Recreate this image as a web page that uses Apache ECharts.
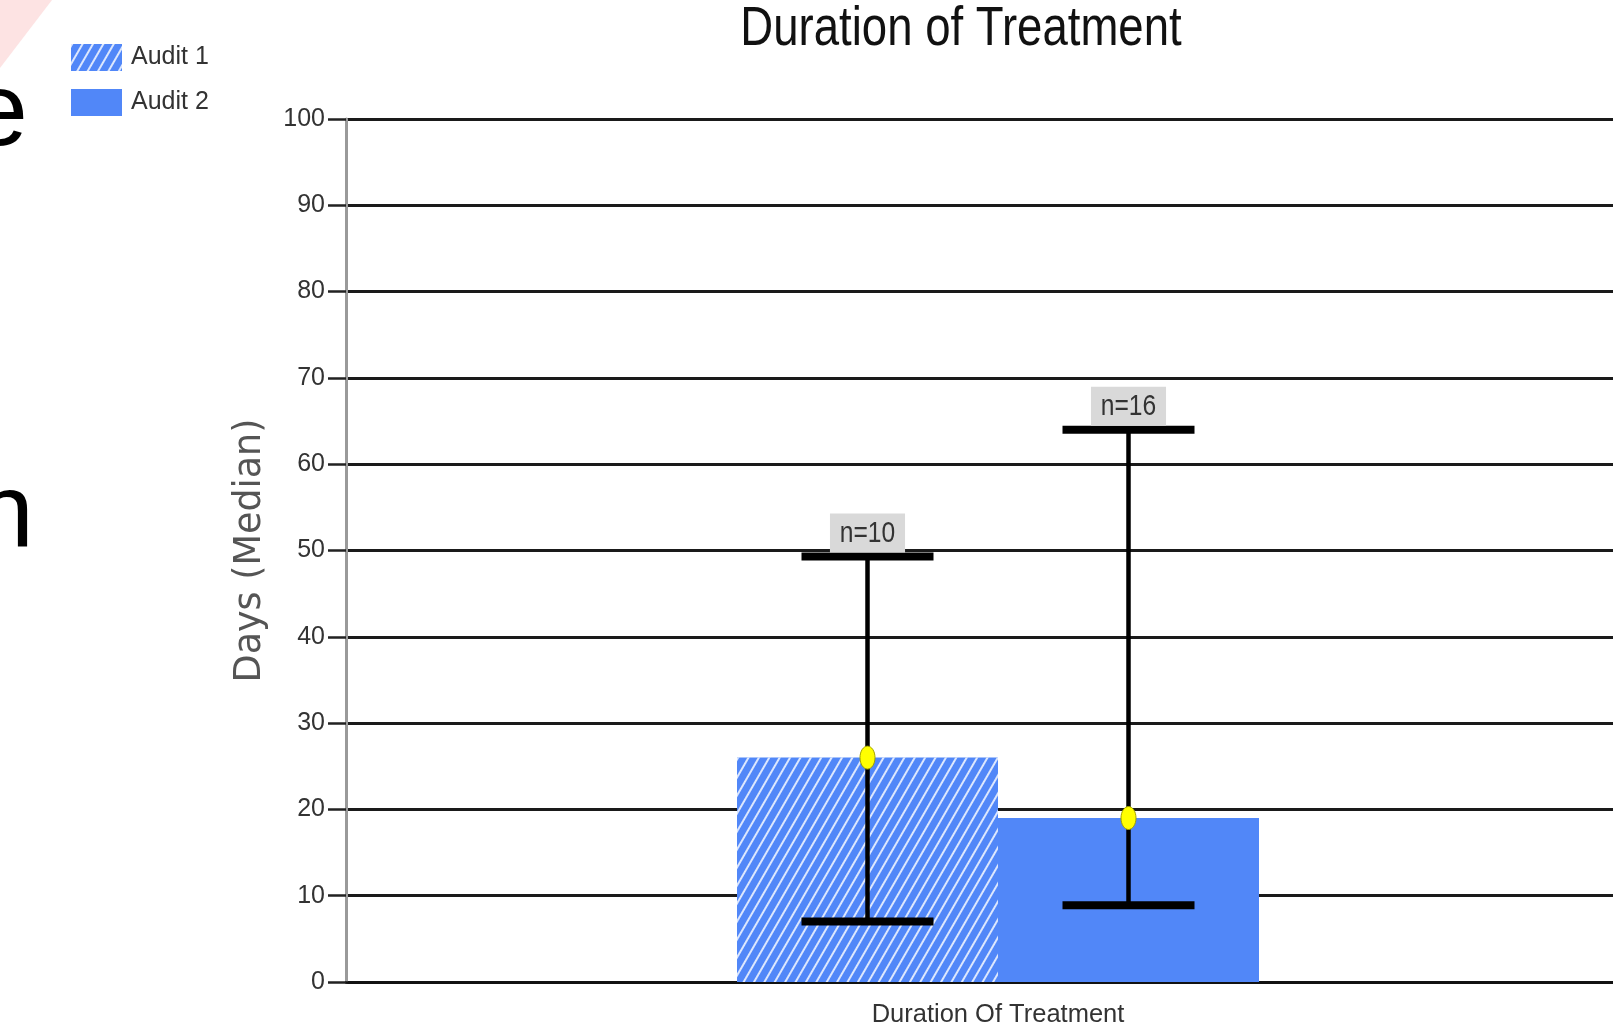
<!DOCTYPE html>
<html>
<head>
<meta charset="utf-8">
<script src="https://cdn.jsdelivr.net/npm/echarts@6/dist/echarts.min.js"></script>
<style>
html,body{margin:0;padding:0;background:#fff;}
#chart{width:1613px;height:1025px;}
</style>
</head>
<body>
<div id="chart"></div>
<script>
// ---- data ----
var categories = ['Duration Of Treatment'];
var seriesNames = ['Audit 1', 'Audit 2'];
var audit1Median = [26];
var audit2Median = [19];
var audit1Low = [7];
var audit1High = [49.3];
var audit2Low = [8.9];
var audit2High = [64];
var audit1N = ['n=10'];
var audit2N = ['n=16'];
var yMin = 0, yMax = 100, yInterval = 10;

// ---- styling constants ----
var FONT = '"Liberation Sans", Arial, sans-serif';
var BLUE = '#5187f8';
var BAR_W = 261;
var CAP_W = 132;
var NARROW_SCALE = 0.82;

var chart = echarts.init(document.getElementById('chart'), null, {renderer: 'canvas'});

function errorRenderer(offsetPx) {
  return function (params, api) {
    var cat = api.value(0);
    var low = api.value(1), high = api.value(2), med = api.value(3);
    var label = api.value(4);
    var pLow = api.coord([cat, low]);
    var pHigh = api.coord([cat, high]);
    var pMed = api.coord([cat, med]);
    var x = pLow[0] + offsetPx;
    var children = [
      {type: 'line', shape: {x1: x, y1: pHigh[1], x2: x, y2: pLow[1]},
       style: {stroke: '#000', lineWidth: 4.5}},
      {type: 'rect', shape: {x: x - CAP_W / 2, y: pHigh[1] - 4, width: CAP_W, height: 8},
       style: {fill: '#000'}},
      {type: 'rect', shape: {x: x - CAP_W / 2, y: pLow[1] - 4, width: CAP_W, height: 8},
       style: {fill: '#000'}},
      {type: 'ellipse', shape: {cx: x, cy: pMed[1], rx: 7.5, ry: 11.5},
       style: {fill: '#ffff00', stroke: '#a0a000', lineWidth: 1}},
      {type: 'text', x: x, y: pHigh[1] - 4, scaleX: NARROW_SCALE, scaleY: 1,
       style: {text: label, font: '30px ' + FONT, fill: '#333',
               align: 'center', verticalAlign: 'bottom',
               backgroundColor: '#d9d9d9', padding: [5, 12, 4, 12]}}
    ];
    return {type: 'group', children: children};
  };
}

var option = {
  animation: false,
  backgroundColor: '#fff',
  graphic: [
    {type: 'polygon', shape: {points: [[0, 0], [52, 0], [0, 68]]}, style: {fill: '#fde3e3'}, z: 0},
    {type: 'text', x: -30, y: 116, style: {text: 'e', font: '104px ' + FONT, fill: '#000', verticalAlign: 'middle'}},
    {type: 'text', x: -24, y: 517, style: {text: 'h', font: '104px ' + FONT, fill: '#000', verticalAlign: 'middle'}},
    {type: 'text', x: 961, y: 30, scaleX: 0.828, style: {text: 'Duration of Treatment', font: '55px ' + FONT, fill: '#111', align: 'center', verticalAlign: 'middle'}}
  ],
  legend: {
    orient: 'vertical',
    left: 71, top: 44, padding: 0,
    itemWidth: 51, itemHeight: 27, itemGap: 18,
    icon: 'rect',
    data: seriesNames,
    textStyle: {fontFamily: FONT, fontSize: 25, color: '#333', padding: [0, 0, 0, 4]}
  },
  grid: {left: 346, top: 119, width: 1304, height: 863, containLabel: false, outerBoundsMode: 'none'},
  xAxis: {
    type: 'category',
    data: categories,
    axisLine: {lineStyle: {color: '#111', width: 2.5}},
    axisTick: {alignWithLabel: true, length: 8, lineStyle: {color: '#777', width: 1.5}},
    axisLabel: {fontFamily: FONT, fontSize: 25.5, color: '#333', margin: 20}
  },
  yAxis: {
    type: 'value',
    min: yMin, max: yMax, interval: yInterval,
    name: 'Days (Median)',
    nameLocation: 'middle',
    nameGap: 77,
    nameTextStyle: {fontFamily: '"DejaVu Sans", Verdana, sans-serif', fontSize: 36.5, color: '#555'},
    axisLine: {show: true, lineStyle: {color: '#9a9a9a', width: 3}},
    axisTick: {show: true, length: 18, lineStyle: {color: '#222', width: 2.5}},
    axisLabel: {fontFamily: FONT, fontSize: 25, color: '#333', margin: 21},
    splitLine: {show: true, lineStyle: {color: '#1a1a1a', width: 2.8}}
  },
  series: [
    {
      name: seriesNames[0], type: 'bar', data: audit1Median,
      barWidth: BAR_W, barGap: '0%',
      itemStyle: {
        color: BLUE,
        decal: {
          color: 'rgba(255,255,255,0.8)',
          dashArrayX: [1, 0],
          dashArrayY: [2, 7],
          rotation: -Math.PI / 3
        }
      },
      z: 2
    },
    {
      name: seriesNames[1], type: 'bar', data: audit2Median,
      barWidth: BAR_W, barGap: '0%',
      itemStyle: {color: BLUE},
      z: 2
    },
    {
      name: seriesNames[0] + ' range', type: 'custom',
      renderItem: errorRenderer(-BAR_W / 2),
      data: categories.map(function (c, i) { return [i, audit1Low[i], audit1High[i], audit1Median[i], audit1N[i]]; }),
      z: 5
    },
    {
      name: seriesNames[1] + ' range', type: 'custom',
      renderItem: errorRenderer(BAR_W / 2),
      data: categories.map(function (c, i) { return [i, audit2Low[i], audit2High[i], audit2Median[i], audit2N[i]]; }),
      z: 5
    }
  ]
};
chart.setOption(option);
</script>
</body>
</html>
